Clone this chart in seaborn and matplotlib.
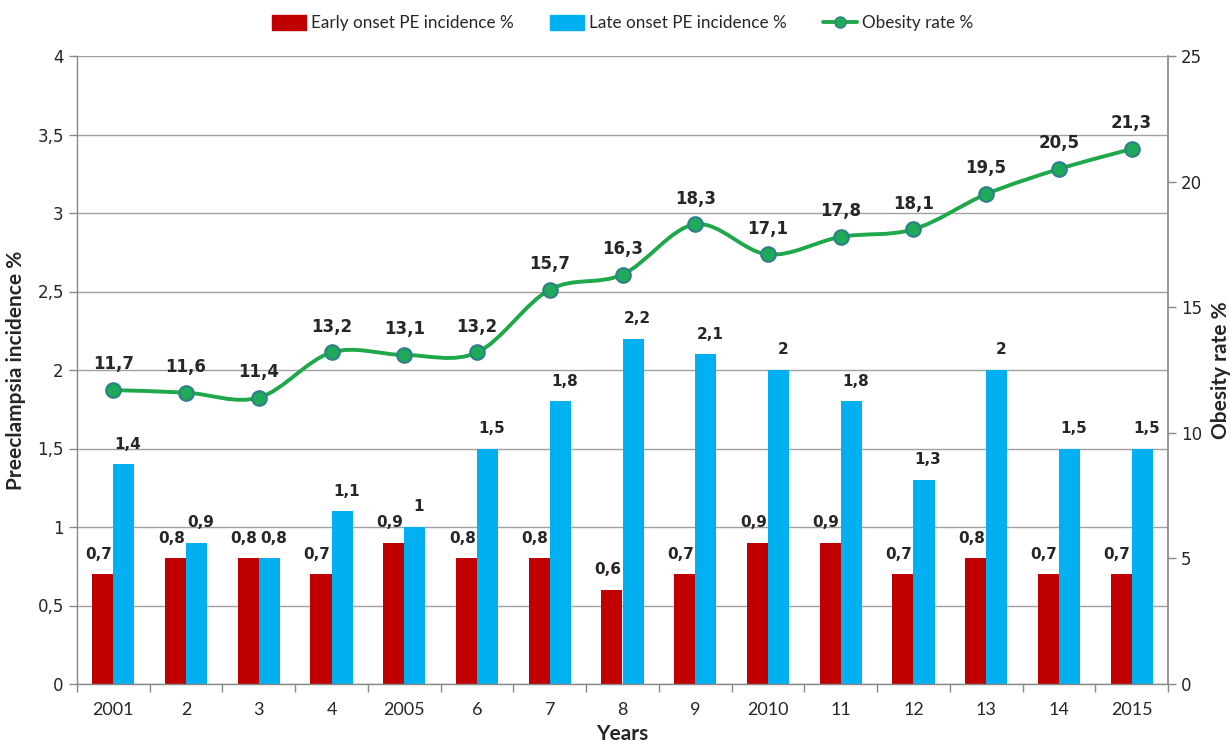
import numpy as np
import pandas as pd
import matplotlib
matplotlib.use("Agg")
import matplotlib.pyplot as plt
from matplotlib.path import Path
from matplotlib.patches import PathPatch
from matplotlib.lines import Line2D
from matplotlib.patches import Patch
import seaborn as sns

years = ["2001", "2", "3", "4", "2005", "6", "7", "8", "9", "2010", "11", "12", "13", "14", "2015"]
early = [0.7, 0.8, 0.8, 0.7, 0.9, 0.8, 0.8, 0.6, 0.7, 0.9, 0.9, 0.7, 0.8, 0.7, 0.7]
late = [1.4, 0.9, 0.8, 1.1, 1.0, 1.5, 1.8, 2.2, 2.1, 2.0, 1.8, 1.3, 2.0, 1.5, 1.5]
obesity = [11.7, 11.6, 11.4, 13.2, 13.1, 13.2, 15.7, 16.3, 18.3, 17.1, 17.8, 18.1, 19.5, 20.5, 21.3]
series_names = ["Early onset PE incidence %", "Late onset PE incidence %"]
line_name = "Obesity rate %"

RED = "#c00000"
BLUE = "#00b0f0"
GREEN = "#1fa84a"

sns.set_theme(style="white")
plt.rcParams['font.family'] = ['Lato', 'DejaVu Sans']

def fmt(v):
    s = ("%g" % v).replace(".", ",")
    return s

df = pd.DataFrame({
    "year": years * 2,
    "value": early + late,
    "series": [series_names[0]] * len(years) + [series_names[1]] * len(years),
})

fig = plt.figure(figsize=(12.3, 7.46), dpi=100)
ax = fig.add_axes([77/1230, 1 - 684/746, (1168-77)/1230, (684-56)/746])

sns.barplot(data=df, x="year", y="value", hue="series", order=years,
            hue_order=series_names, palette=[RED, BLUE], width=0.58,
            gap=0, saturation=1, ax=ax, legend=False, errorbar=None,
            linewidth=0, edgecolor="none")

ax.set_ylim(0, 4)
ax.set_xlim(-0.5, len(years) - 0.5)
ax.set_yticks(np.arange(0, 4.01, 0.5))
ax.set_yticklabels([fmt(v) for v in np.arange(0, 4.01, 0.5)], family="DejaVu Sans", fontsize=12)
ax.yaxis.grid(True, color="#a0a0a0", linewidth=1)
ax.set_axisbelow(True)
ax.set_xticks(range(len(years)))
ax.set_xticklabels(years, fontsize=13)
ax.tick_params(axis="x", length=0, pad=13)
ax.tick_params(axis="y", length=6, width=1, color="#888888", direction="out", left=True)
# category separator ticks
sec = ax.secondary_xaxis("bottom")
sec.set_xticks(np.arange(-0.5, len(years), 1.0))
sec.set_xticklabels([])
sec.tick_params(length=6, width=1, color="#888888", direction="out")
sec.spines["bottom"].set_visible(False)
for s in ["top", "right"]:
    ax.spines[s].set_visible(False)
for s in ["left", "bottom"]:
    ax.spines[s].set_color("#888888")
    ax.spines[s].set_linewidth(1)

ax.set_xlabel("Years", fontsize=15, fontweight="bold", labelpad=4)
ax.set_ylabel("Preeclampsia incidence %", fontsize=15, fontweight="bold", labelpad=8)

# bar labels (slightly pushed outward like the reference)
for cont, vals, dx in zip(ax.containers, [early, late], [-3, 3]):
    for bar, v in zip(cont.patches, vals):
        ax.annotate(fmt(v), (bar.get_x() + bar.get_width() / 2, bar.get_height()),
                    xytext=(dx, 9), textcoords="offset points", ha="center", va="bottom",
                    fontsize=11, fontweight="bold", family="DejaVu Sans")

# secondary axis
ax2 = ax.twinx()
ax2.set_ylim(0, 25)
ax2.set_yticks(np.arange(0, 26, 5))
ax2.set_yticklabels([str(v) for v in range(0, 26, 5)], family="DejaVu Sans", fontsize=12)
ax2.tick_params(axis="y", length=6, width=1, color="#888888", direction="out", right=True)
for s in ["top", "left", "bottom"]:
    ax2.spines[s].set_visible(False)
ax2.spines["right"].set_color("#888888")
ax2.set_ylabel(line_name, fontsize=15, fontweight="bold", labelpad=6)
ax2.grid(False)

# smooth line (Catmull-Rom as cubic Bezier through data points)
x = np.arange(len(obesity), dtype=float)
y = np.array(obesity, dtype=float)
verts = [(x[0], y[0])]
codes = [Path.MOVETO]
t = 1/6
for i in range(len(x) - 1):
    p0 = np.array([x[max(i-1, 0)], y[max(i-1, 0)]])
    p1 = np.array([x[i], y[i]])
    p2 = np.array([x[i+1], y[i+1]])
    p3 = np.array([x[min(i+2, len(x)-1)], y[min(i+2, len(x)-1)]])
    c1 = p1 + (p2 - p0) * t
    c2 = p2 - (p3 - p1) * t
    verts += [tuple(c1), tuple(c2), tuple(p2)]
    codes += [Path.CURVE4] * 3
ax2.add_patch(PathPatch(Path(verts, codes), facecolor="none", edgecolor=GREEN, linewidth=2.8, zorder=3))
sns.scatterplot(x=x, y=y, ax=ax2, s=110, color="#1faa5a", edgecolor="#2f7f8a",
                linewidth=1.5, zorder=4, legend=False)
for xi, yi in zip(x, y):
    ax2.annotate(fmt(yi), (xi, yi), xytext=(0, 12), textcoords="offset points",
                 ha="center", va="bottom", fontsize=12, fontweight="bold", family="DejaVu Sans")

handles = [Patch(color=RED, label=series_names[0]),
           Patch(color=BLUE, label=series_names[1]),
           Line2D([0], [0], color=GREEN, lw=2.8, marker="o", markersize=8,
                  markerfacecolor="#1faa5a", markeredgecolor="#2f7f8a", label=line_name)]
fig.legend(handles=handles, loc="upper center", bbox_to_anchor=(0.506, 1.0), ncol=3,
           frameon=False, fontsize=12.3, handlelength=2.0, handleheight=0.9,
           columnspacing=2.1, handletextpad=0.3)

fig.savefig("out.png", dpi=100)
